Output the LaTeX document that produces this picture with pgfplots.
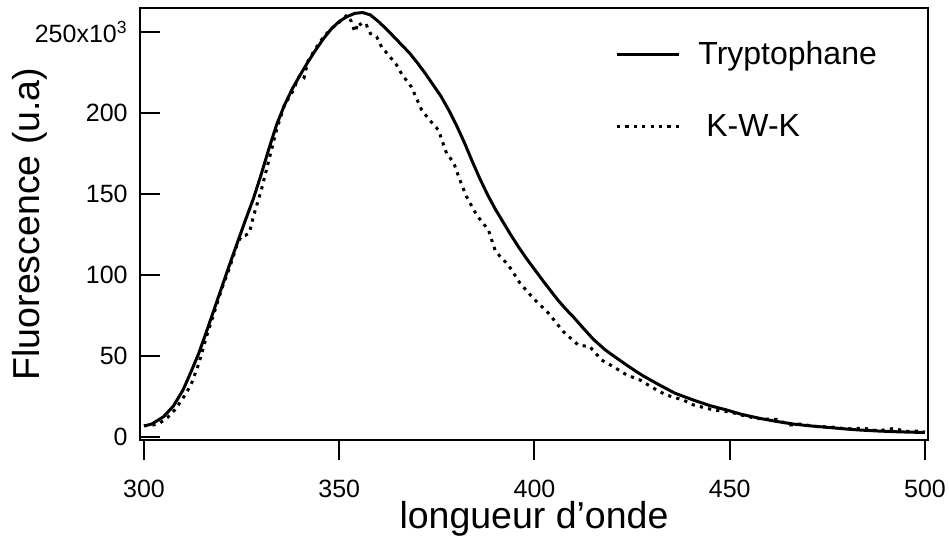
\documentclass[border=0pt]{standalone}
\usepackage{pgfplots}
\pgfplotsset{compat=1.18}
\usepackage{fontspec}
\setmainfont{Liberation Sans}
\begin{document}
\begin{tikzpicture}
\begin{axis}[
  scale only axis, width=394pt, height=216pt,
  xmin=298.98, xmax=500.77, ymin=-1.85, ymax=264.8,
  axis line style={line width=1.1pt},
  xtick={300,350,400,450,500}, xticklabels={300,350,400,450,500},
  ytick={0,50,100,150,200,250}, yticklabels={0,50,100,150,200,250x10\textsuperscript{3}},
  xtick pos=bottom, ytick pos=left,
  xtick align=outside, ytick align=inside,
  major tick length=10pt,
  every tick/.style={black, line width=1pt},
  minor tick num=0,
  ticklabel style={font=\fontsize{12.5}{15}\selectfont},
  xticklabel style={anchor=base, inner sep=0pt, yshift=-18.5pt},
  yticklabel style={anchor=east, inner sep=0pt, xshift=-6pt},
  xlabel={longueur d'onde},
  ylabel={Fluorescence (u.a)},
  label style={font=\fontsize{18.75}{22}\selectfont, inner sep=0pt},
  xlabel style={at={(axis description cs:0.5,-0.2060)}, anchor=base},
  ylabel style={at={(axis description cs:-0.1269,0.5)}, anchor=base, rotate=0},
  legend style={draw=none, fill=none, at={(axis description cs:0.6028,0.934)}, anchor=north west,
    font=\fontsize{16}{19}\selectfont, row sep=19.5pt, inner sep=0pt, legend cell align=left,
    /tikz/every odd column/.append style={column sep=7pt}},
  legend image code/.code={\draw[#1] (0pt,0pt) -- (31pt,0pt);},
]
\addplot[black, line width=1.5pt] coordinates {
(300,6.8)(302,8)(305,12.5)(307.5,19)(310,29)(312,40)(314,51.5)(316,65)(318,79)(320,93)
(322,107)(324,120.5)(326,134)(328,147)(330,162)(332,178)(334,193)(336,205)(338,215)
(340,223.5)(342,231.5)(344,239)(346,246)(348,252)(350,256.5)(352,259.5)(354,261.5)(356,262)
(358,260.5)(360,256.5)(362,252)(364,247)(366,242)(368,237)(370,231)(372,224.5)(374,217.5)
(376,210.5)(378,202)(380,192.5)(382,182)(384,170.5)(386,159.5)(388,149.5)(390,140.5)
(392,132.5)(394,124.5)(396,117)(398,110)(400,103.5)(402,97)(404,90.7)(406,84.5)(408,79)
(410,74)(412,68.5)(415,60.5)(418,54)(420,50.5)(423.6,44.4)(426,40.5)(428,37.5)(430,34.8)
(432,32.1)(436,27)(440.7,22.8)(445,19.3)(449.2,16.7)(453,14)(457.7,11.5)(462,9.6)
(466.3,8)(470,7)(474.8,6)(480,4.9)(483.4,4.3)(488,3.7)(492,3.3)(496,3.0)(500,2.8)
};
\addlegendentry{Tryptophane}
\addplot[black, line width=1.5pt, dash pattern=on 1.6pt off 2.6pt] coordinates {
(300,7)(302,7.2)(304,8.5)(306,12)(308,17)(310,24)(312,32)(314,45)(316,62)(318,77)
(320,92)(322,105)(324,120)(325,124)(326,124.5)(327,126)(328,136)(330,152)(332,171)
(334,190)(336,205)(338,213)(340,224)(341,222)(342,232)(344,240)(346,247)(348,252)
(350,256)(352,260.5)(353,257)(354,250)(355,256)(356,253)(357,254)(358,249)(359.6,247)
(361,240)(362.2,237)(364.7,229.6)(366,224)(368.5,216)(371.1,201.9)(373,196)(375.4,189.5)
(377.5,175)(378.8,171)(379.5,168)(380.9,158.6)(382.6,148.3)(385.2,137)(388.2,127.8)
(389.9,115.4)(391,112)(393.3,106.2)(396.3,94.9)(399.7,85.6)(403.6,76.4)(407.4,65)
(411.2,56.8)(414.2,55.7)(417.2,47.5)(420.2,43.4)(423.6,38.3)(427,35.2)(431.3,29)
(433.8,25.9)(438.1,22.8)(440.7,19.8)(445.8,16.7)(450,15.5)(453,13.5)(456.9,11.5)
(460,11)(462,10.9)(465.4,7.4)(468,8)(472,6.5)(476,6.2)(480,5)(484,5.5)(488,3.8)
(492,5.3)(495,3.5)(498,3.6)(500,3)
};
\addlegendentry{\hspace{4pt}K-W-K}
\end{axis}
\pgfresetboundingbox
\path[use as bounding box] (-70pt,-48.5pt) rectangle (404.5pt,220pt);
\end{tikzpicture}
\end{document}
